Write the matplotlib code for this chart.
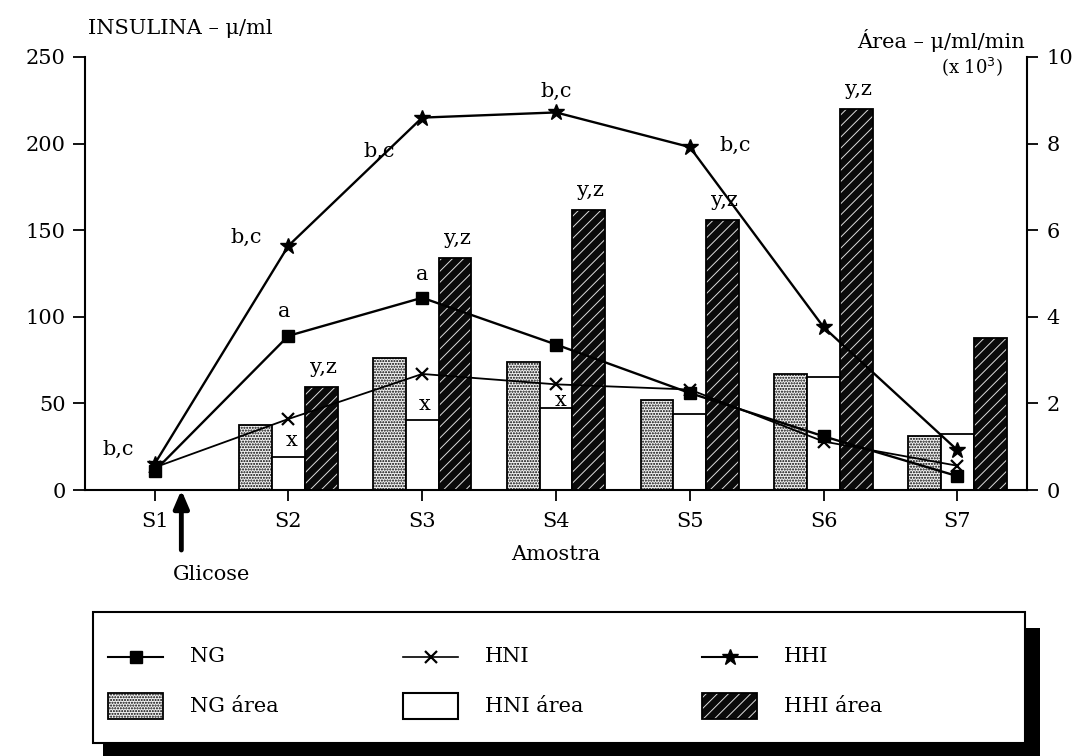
import numpy as np
import matplotlib
matplotlib.use("Agg")
import matplotlib.pyplot as plt
from matplotlib.patches import Rectangle
from matplotlib.lines import Line2D

plt.rcParams["font.family"] = ["DejaVu Serif"]
plt.rcParams["font.size"] = 15
plt.rcParams["hatch.linewidth"] = 1.0

# ── Data ─────────────────────────────────────────────────────────────────────
samples = ["S1", "S2", "S3", "S4", "S5", "S6", "S7"]

# insulin (left axis, µ/ml)
ng_insulin  = [11, 89, 111, 84, 56, 31, 8]
hni_insulin = [13, 41, 67, 61, 58, 28, 14]
hhi_insulin = [15, 141, 215, 218, 198, 94, 23]

# area under curve (right axis, µ/ml/min x 10^3)
ng_area  = [0, 1.50, 3.05, 2.96, 2.08, 2.68, 1.25]
hni_area = [0, 0.76, 1.62, 1.89, 1.76, 2.61, 1.29]
hhi_area = [0, 2.38, 5.36, 6.47, 6.24, 8.80, 3.50]

# significance letters
ng_sig  = ["", "a", "a", "", "", "", ""]
hni_sig = ["", "x", "x", "x", "", "", ""]
hhi_sig = ["b,c", "b,c", "b,c", "b,c", "b,c", "", ""]
bar_sig = ["", "y,z", "y,z", "y,z", "y,z", "y,z", ""]

# ── Figure ───────────────────────────────────────────────────────────────────
W, H = 1085, 756
fig = plt.figure(figsize=(W / 100, H / 100), dpi=100)
ax = fig.add_axes([85 / W, 1 - 490 / H, (1027 - 85) / W, (490 - 57) / H])
ax2 = ax.twinx()
ax.set_zorder(ax2.get_zorder() + 1)
ax.patch.set_visible(False)

x = np.arange(1, len(samples) + 1)
w = 0.245

ax2.bar(x - w, ng_area, w, facecolor="#f2f2f2", edgecolor="black",
        hatch="......", linewidth=1.3)
ax2.bar(x, hni_area, w, facecolor="white", edgecolor="black", linewidth=1.3)
plt.rcParams["hatch.linewidth"] = 0.7
ax2.bar(x + w, hhi_area, w, facecolor="#0a0a0a", edgecolor="#dddddd",
        hatch="///", linewidth=0)
ax2.bar(x + w, hhi_area, w, facecolor="none", edgecolor="black", linewidth=1.3)
plt.rcParams["hatch.linewidth"] = 1.0

ax.plot(x, ng_insulin, color="black", lw=1.7, marker="s", ms=8)
ax.plot(x, hni_insulin, color="black", lw=1.3, marker="x", ms=9, mew=1.6)
ax.plot(x, hhi_insulin, color="black", lw=1.7, marker="*", ms=12)

# letters: offsets in pixels, converted to points
px = 0.72
hhi_off = [(-36, 15), (-42, 8), (-43, -34), (0, 21), (45, 2), (0, 0), (0, 0)]
for xi, yi, s, (dx, dy) in zip(x, hhi_insulin, hhi_sig, hhi_off):
    if s:
        ax.annotate(s, (xi, yi), xytext=(dx * px, dy * px),
                    textcoords="offset points", ha="center", va="center")
ng_off = [(0, 0), (-4, 24), (0, 23), (0, 0), (0, 0), (0, 0), (0, 0)]
for xi, yi, s, (dx, dy) in zip(x, ng_insulin, ng_sig, ng_off):
    if s:
        ax.annotate(s, (xi, yi), xytext=(dx * px, dy * px),
                    textcoords="offset points", ha="center", va="center")
hni_off = [(0, 0), (3, -22), (2, -31), (5, -16), (0, 0), (0, 0), (0, 0)]
for xi, yi, s, (dx, dy) in zip(x, hni_insulin, hni_sig, hni_off):
    if s:
        ax.annotate(s, (xi, yi), xytext=(dx * px, dy * px),
                    textcoords="offset points", ha="center", va="center")
for xi, yi, s in zip(x, hhi_area, bar_sig):
    if s:
        ax2.annotate(s, (xi + w, yi), xytext=(2 * px, 19 * px),
                     textcoords="offset points", ha="center", va="center")

# axes styling
ax.set_xlim(0.48, 7.52)
ax.set_ylim(0, 250)
ax2.set_ylim(0, 10)
ax.set_yticks(range(0, 251, 50))
ax2.set_yticks(range(0, 11, 2))
ax.set_xticks(x)
ax.set_xticklabels(samples)
for a in (ax, ax2):
    a.spines["top"].set_visible(False)
    for sp in a.spines.values():
        sp.set_linewidth(1.5)
ax.spines["right"].set_visible(False)
ax2.spines["left"].set_visible(False)
ax2.spines["bottom"].set_visible(False)
ax.tick_params(axis="y", direction="out", length=9, width=1.3, pad=5, labelsize=15)
ax.tick_params(axis="x", direction="out", length=8, width=1.3, pad=8, labelsize=15)
ax2.tick_params(axis="y", direction="out", length=8, width=1.3, pad=6, labelsize=15)
ax.set_xlabel("Amostra", labelpad=10)

fig.text(88 / W, 1 - 28 / H, "INSULINA – μ/ml", ha="left", va="center")
fig.text(1025 / W, 1 - 40 / H, "Área – μ/ml/min", ha="right", va="center")
fig.text(1003 / W, 1 - 67 / H, "(x 10$^3$)", ha="right", va="center", fontsize=13)

# glucose arrow
ax.annotate("", xy=(1.2, 0), xytext=(0, -60 * px), textcoords="offset points",
            arrowprops=dict(arrowstyle="-|>,head_length=0.7,head_width=0.3",
                            lw=3.5, color="black", shrinkA=0, shrinkB=0),
            annotation_clip=False)
ax.annotate("Glicose", xy=(1.2, 0), xytext=(30 * px, -85 * px),
            textcoords="offset points", ha="center", va="center",
            annotation_clip=False)

# ── Legend box (drawn in pixel space) ────────────────────────────────────────
lg = fig.add_axes([0, 0, 1, 1], zorder=-1)
lg.set_xlim(0, W)
lg.set_ylim(H, 0)
lg.axis("off")
lg.add_patch(Rectangle((103, 628), 937, 130, facecolor="black", edgecolor="none"))
lg.add_patch(Rectangle((93, 612), 932, 131, facecolor="white", edgecolor="black", lw=1.5))

row1, row2 = 657, 707
cols = [108, 403, 702]
hl = 55
line_w = [1.5, 1.2, 1.5]
mk_style = [dict(marker="s", ms=8), dict(marker="x", ms=9, mew=1.6),
            dict(marker="*", ms=12)]
names = ["NG", "HNI", "HHI"]
for cx, lw, m, nm in zip(cols, line_w, mk_style, names):
    lg.add_line(Line2D([cx, cx + hl], [row1, row1], color="black", lw=lw))
    lg.plot([cx + hl / 2], [row1], color="black", linestyle="none", **m)
    lg.text(cx + 82, row1, nm, ha="left", va="center", fontsize=15)

lg.add_patch(Rectangle((cols[0], 693), hl, 26, facecolor="#f2f2f2", edgecolor="black",
                       hatch="......", lw=1.3))
lg.add_patch(Rectangle((cols[1], 693), hl, 26, facecolor="white", edgecolor="black", lw=1.5))
plt.rcParams["hatch.linewidth"] = 0.7
lg.add_patch(Rectangle((cols[2], 693), hl, 26, facecolor="#0a0a0a", edgecolor="#dddddd",
                       hatch="///", lw=0))
lg.add_patch(Rectangle((cols[2], 693), hl, 26, facecolor="none", edgecolor="black", lw=1.3))
for cx, nm in zip(cols, names):
    lg.text(cx + 82, row2, nm + " área", ha="left", va="center", fontsize=15)

fig.savefig("out.png", dpi=100)
